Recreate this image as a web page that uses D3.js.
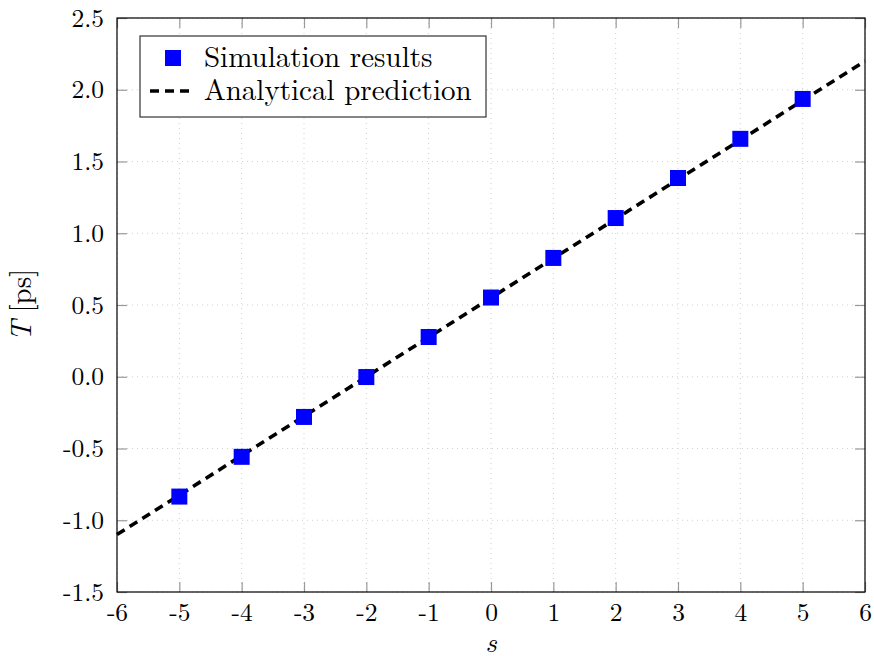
<!DOCTYPE html>
<html>
<head>
<meta charset="utf-8">
<script src="https://cdn.jsdelivr.net/npm/d3@7"></script>
<style>
body{margin:0;background:#fff;}
</style>
</head>
<body>
<div id="chart"></div>
<script>
// simulation points
var simS = [-5,-4,-3,-2,-1,0,1,2,3,4,5];
var simT = [-0.835,-0.558,-0.28,-0.002,0.277,0.552,0.828,1.106,1.385,1.658,1.936];
// analytical line endpoints
var lineS = [-6,6];
var lineT = [-1.1,2.2];
var xTicks = [-6,-5,-4,-3,-2,-1,0,1,2,3,4,5,6];
var yTicks = [-1.5,-1.0,-0.5,0.0,0.5,1.0,1.5,2.0,2.5];

var width = 874, height = 656;
var margin = {top:18, left:117, right:9, bottom:64};
var iw = width-margin.left-margin.right, ih = height-margin.top-margin.bottom;

var x = d3.scaleLinear().domain([-6,6]).range([0,iw]);
var y = d3.scaleLinear().domain([-1.5,2.5]).range([ih,0]);

var svg = d3.select('#chart').append('svg').attr('width',width).attr('height',height)
  .append('g').attr('transform','translate('+margin.left+','+margin.top+')');

var font = '"Latin Modern Roman","CMU Serif","Liberation Serif",serif';
// grid
svg.append('g').selectAll('line').data(xTicks).enter().append('line')
  .attr('x1',d=>x(d)).attr('x2',d=>x(d)).attr('y1',0).attr('y2',ih)
  .attr('stroke','#d0d0d0').attr('stroke-width',1).attr('stroke-dasharray','1,4');
svg.append('g').selectAll('line').data(yTicks).enter().append('line')
  .attr('y1',d=>y(d)).attr('y2',d=>y(d)).attr('x1',0).attr('x2',iw)
  .attr('stroke','#d0d0d0').attr('stroke-width',1).attr('stroke-dasharray','1,4');

// axes with inward ticks on all sides
function styleAxis(g){
  g.select('.domain').remove();
  g.selectAll('.tick line').attr('stroke','#999').attr('stroke-width',1.2);
  g.selectAll('.tick text').attr('font-family',font).attr('font-size',25.5).attr('fill','#000');
}
var fmt = d=> d<0 ? '-'+Math.abs(d).toFixed(1) : d.toFixed(1);
var fmtX = d=> d<0 ? '-'+Math.abs(d) : String(d);
svg.append('g').attr('transform','translate(0,'+ih+')')
  .call(d3.axisBottom(x).tickValues(xTicks).tickFormat(fmtX).tickSize(-10).tickPadding(11))
  .call(styleAxis);
svg.append('g')
  .call(d3.axisTop(x).tickValues(xTicks).tickFormat('').tickSize(-10))
  .call(styleAxis);
svg.append('g')
  .call(d3.axisLeft(y).tickValues(yTicks).tickFormat(fmt).tickSize(-10).tickPadding(13))
  .call(styleAxis);
svg.append('g').attr('transform','translate('+iw+',0)')
  .call(d3.axisRight(y).tickValues(yTicks).tickFormat('').tickSize(-10))
  .call(styleAxis);

svg.append('rect').attr('x',0).attr('y',0).attr('width',iw).attr('height',ih)
  .attr('fill','none').attr('stroke','#000').attr('stroke-width',1.2);

// analytical line
var line = d3.line().x(d=>x(d[0])).y(d=>y(d[1]));
svg.append('path').datum(d3.zip(lineS,lineT)).attr('d',line)
  .attr('fill','none').attr('stroke','#000').attr('stroke-width',3.6).attr('stroke-dasharray','9,6');

// simulation markers
var ms = 16;
svg.selectAll('.sim').data(d3.zip(simS,simT)).enter().append('rect')
  .attr('class','sim')
  .attr('x',d=>x(d[0])-ms/2).attr('y',d=>y(d[1])-ms/2)
  .attr('width',ms).attr('height',ms).attr('fill','#0000ff');

// axis labels
svg.append('text').attr('x',iw/2).attr('y',ih+60).attr('text-anchor','middle')
  .attr('font-family',font).attr('font-size',28).attr('font-style','italic').text('s');
var yl = svg.append('text').attr('transform','translate(-86,'+(305-margin.top)+') rotate(-90)')
  .attr('text-anchor','middle').attr('font-family',font).attr('font-size',29);
yl.append('tspan').attr('font-style','italic').text('T');
yl.append('tspan').attr('dx',8).text('[ps]');

// legend
var lg = svg.append('g').attr('transform','translate(23,18)');
lg.append('rect').attr('width',346).attr('height',81).attr('fill','#fff')
  .attr('stroke','#333').attr('stroke-width',1.2);
lg.append('rect').attr('x',33-ms/2).attr('y',22-ms/2).attr('width',ms).attr('height',ms).attr('fill','#0000ff');
lg.append('line').attr('x1',10).attr('x2',52).attr('y1',55).attr('y2',55)
  .attr('stroke','#000').attr('stroke-width',3.6).attr('stroke-dasharray','9,6');
lg.append('text').attr('x',64).attr('y',31).attr('font-family',font).attr('font-size',29).text('Simulation results');
lg.append('text').attr('x',64).attr('y',64).attr('font-family',font).attr('font-size',29).text('Analytical prediction');
</script>
</body>
</html>
